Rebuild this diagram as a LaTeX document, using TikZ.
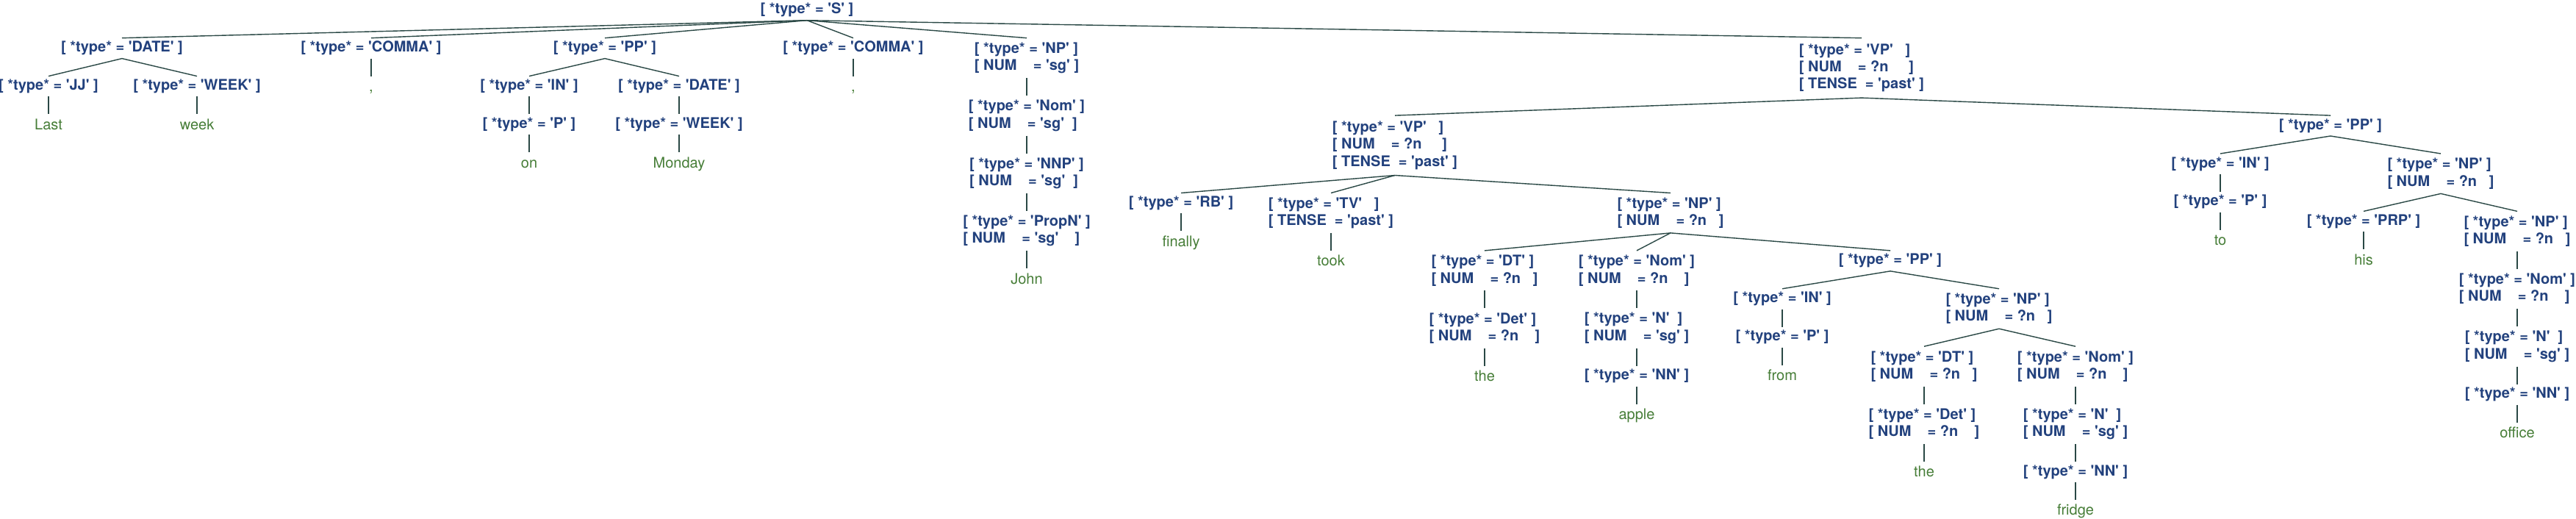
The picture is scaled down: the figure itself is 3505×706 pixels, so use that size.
\documentclass[tikz,border=0pt]{standalone}
\usepackage{fontspec}
\usepackage{xcolor}
\usepackage{tikz}
\usetikzlibrary{positioning}
\newfontfamily\heros{TeX Gyre Heros}
\definecolor{nodeblue}{HTML}{22417D}
\definecolor{leafgreen}{HTML}{467D37}
\definecolor{linegray}{HTML}{2A4845}
\newcommand{\fline}[1]{[~#1~]}
\tikzset{
	feat/.style = 
    {
			font = \heros\bfseries\fontsize{20}{23.3}\selectfont,
			text = nodeblue,
			align = left,
			inner sep = 0pt,
			minimum height = #1
    },
	feat/.default = 27.5pt,
	word/.style = 
    {
			font = \heros\fontsize{20}{23.3}\selectfont,
			text = leafgreen,
			inner sep = 0pt,
			text height = 15pt,
			text depth = 4pt,
			minimum height = 30pt
    }
}
\begin{document}
\begin{tikzpicture}[x = 1pt, y = 1pt, node distance = 24pt]
        \tikzset{branch/.style={draw=linegray, line width=1.4pt}}
        \useasboundingbox (0,0) rectangle (3505,-706);

        % Nodes
        \node (s) [feat] at (1098,-13.75) {\fline{*type*~=~'S'}};

        \node (date) [feat, below=of s, xshift=-932pt] {\fline{*type*~=~'DATE'}};
        \node (jj) [feat, below=of date, xshift=-100pt] {\fline{*type*~=~'JJ'}};
        \node (last) [word, below=of jj] {Last};
        \node (week_a) [feat, below=of date, xshift=102pt] {\fline{*type*~=~'WEEK'}};
        \node (week) [word, below=of week_a] {week};

        \node (comma_a) [feat, below=of s, xshift=-593pt] {\fline{*type*~=~'COMMA'}};
        \node (comma_a_w) [word, below=of comma_a] {,};

        \node (pp_a) [feat, below=of s, xshift=-275pt] {\fline{*type*~=~'PP'}};
        \node (in_a) [feat, below=of pp_a, xshift=-103pt] {\fline{*type*~=~'IN'}};
        \node (p_a) [feat, below=of in_a] {\fline{*type*~=~'P'}};
        \node (on) [word, below=of p_a] {on};
        \node (date_b) [feat, below=of pp_a, xshift=101pt] {\fline{*type*~=~'DATE'}};
        \node (week_b) [feat, below=of date_b] {\fline{*type*~=~'WEEK'}};
        \node (monday) [word, below=of week_b] {Monday};

        \node (comma_b) [feat, below=of s, xshift=63pt] {\fline{*type*~=~'COMMA'}};
        \node (comma_b_w) [word, below=of comma_b] {,};

        \node (np_a) [feat=54pt, below=of s, xshift=299pt] {\fline{*type*~=~'NP'}\\\fline{NUM~~~~=~'sg'}};
        \node (nom_a) [feat=54pt, below=of np_a] {\fline{*type*~=~'Nom'}\\\fline{NUM~~~~=~'sg'~}};
        \node (nnp) [feat=54pt, below=of nom_a] {\fline{*type*~=~'NNP'}\\\fline{NUM~~~~=~'sg'~}};
        \node (propn) [feat=54pt, below=of nnp] {\fline{*type*~=~'PropN'}\\\fline{NUM~~~~=~'sg'~~~}};
        \node (john) [word, below=of propn] {John};

        \node (vp_a) [feat=81pt, below=of s, xshift=1435pt] {\fline{*type*~=~'VP'~~}\\\fline{NUM~~~~=~?n~~~~}\\\fline{TENSE~~=~'past'}};
        \node (vp_b) [feat=81pt, below=of vp_a, xshift=-635pt] {\fline{*type*~=~'VP'~~}\\\fline{NUM~~~~=~?n~~~~}\\\fline{TENSE~~=~'past'}};
        \node (rb) [feat, below=of vp_b, xshift=-291pt] {\fline{*type*~=~'RB'}};
        \node (finally) [word, below=of rb] {finally};
        \node (tv) [feat=54pt, below=of vp_b, xshift=-87pt] {\fline{*type*~=~'TV'~~}\\\fline{TENSE~~=~'past'}};
        \node (took) [word, below=of tv] {took};

        \node (np_b) [feat=54pt, below=of vp_b, xshift=375pt] {\fline{*type*~=~'NP'}\\\fline{NUM~~~~=~?n~~}};
        \node (dt_a) [feat=54pt, below=of np_b, xshift=-253pt] {\fline{*type*~=~'DT'}\\\fline{NUM~~~~=~?n~~}};
        \node (det_a) [feat=54pt, below=of dt_a] {\fline{*type*~=~'Det'}\\\fline{NUM~~~~=~?n~~~}};
        \node (the_a) [word, below=of det_a] {the};
        \node (nom_b) [feat=54pt, below=of np_b, xshift=-46pt] {\fline{*type*~=~'Nom'}\\\fline{NUM~~~~=~?n~~~}};
        \node (n_a) [feat=54pt, below=of nom_b] {\fline{*type*~=~'N'~}\\\fline{NUM~~~~=~'sg'}};
        \node (nn_a) [feat, below=of n_a] {\fline{*type*~=~'NN'}};
        \node (apple) [word, below=of nn_a] {apple};

        \node (pp_c) [feat, below=of np_b, xshift=299pt] {\fline{*type*~=~'PP'}};
        \node (in_c) [feat, below=of pp_c, xshift=-147pt] {\fline{*type*~=~'IN'}};
        \node (p_c) [feat, below=of in_c] {\fline{*type*~=~'P'}};
        \node (from) [word, below=of p_c] {from};
        \node (np_c) [feat=54pt, below=of pp_c, xshift=148pt] {\fline{*type*~=~'NP'}\\\fline{NUM~~~~=~?n~~}};
        \node (dt_b) [feat=54pt, below=of np_c, xshift=-102pt] {\fline{*type*~=~'DT'}\\\fline{NUM~~~~=~?n~~}};
        \node (det_b) [feat=54pt, below=of dt_b] {\fline{*type*~=~'Det'}\\\fline{NUM~~~~=~?n~~~}};
        \node (the_b) [word, below=of det_b] {the};
        \node (nom_c) [feat=54pt, below=of np_c, xshift=104pt] {\fline{*type*~=~'Nom'}\\\fline{NUM~~~~=~?n~~~}};
        \node (n_b) [feat=54pt, below=of nom_c] {\fline{*type*~=~'N'~}\\\fline{NUM~~~~=~'sg'}};
        \node (nn_b) [feat, below=of n_b] {\fline{*type*~=~'NN'}};
        \node (fridge) [word, below=of nn_b] {fridge};

        \node (pp_b) [feat, below=of vp_a, xshift=638pt] {\fline{*type*~=~'PP'}};
        \node (in_b) [feat, below=of pp_b, xshift=-150pt] {\fline{*type*~=~'IN'}};
        \node (p_b) [feat, below=of in_b] {\fline{*type*~=~'P'}};
        \node (to) [word, below=of p_b] {to};
        \node (np_d) [feat=54pt, below=of pp_b, xshift=150pt] {\fline{*type*~=~'NP'}\\\fline{NUM~~~~=~?n~~}};
        \node (prp) [feat, below=of np_d, xshift=-105pt] {\fline{*type*~=~'PRP'}};
        \node (his) [word, below=of prp] {his};
        \node (np_e) [feat=54pt, below=of np_d, xshift=104pt] {\fline{*type*~=~'NP'}\\\fline{NUM~~~~=~?n~~}};
        \node (nom_d) [feat=54pt, below=of np_e] {\fline{*type*~=~'Nom'}\\\fline{NUM~~~~=~?n~~~}};
        \node (n_c) [feat=54pt, below=of nom_d] {\fline{*type*~=~'N'~}\\\fline{NUM~~~~=~'sg'}};
        \node (nn_c) [feat, below=of n_c] {\fline{*type*~=~'NN'}};
        \node (office) [word, below=of nn_c] {office};

        % Lines
        \draw [branch] (s.south) -- (date.north);
        \draw [branch] (s.south) -- (comma_a.north);
        \draw [branch] (s.south) -- (pp_a.north);
        \draw [branch] (s.south) -- (comma_b.north);
        \draw [branch] (s.south) -- (np_a.north);
        \draw [branch] (s.south) -- (vp_a.north);
        \draw [branch] (date.south) -- (jj.north);
        \draw [branch] (date.south) -- (week_a.north);
        \draw [branch] (jj.south) -- (last.north);
        \draw [branch] (week_a.south) -- (week.north);
        \draw [branch] (comma_a.south) -- (comma_a_w.north);
        \draw [branch] (pp_a.south) -- (in_a.north);
        \draw [branch] (pp_a.south) -- (date_b.north);
        \draw [branch] (in_a.south) -- (p_a.north);
        \draw [branch] (p_a.south) -- (on.north);
        \draw [branch] (date_b.south) -- (week_b.north);
        \draw [branch] (week_b.south) -- (monday.north);
        \draw [branch] (comma_b.south) -- (comma_b_w.north);
        \draw [branch] (np_a.south) -- (nom_a.north);
        \draw [branch] (nom_a.south) -- (nnp.north);
        \draw [branch] (nnp.south) -- (propn.north);
        \draw [branch] (propn.south) -- (john.north);
        \draw [branch] (vp_a.south) -- (vp_b.north);
        \draw [branch] (vp_a.south) -- (pp_b.north);
        \draw [branch] (vp_b.south) -- (rb.north);
        \draw [branch] (vp_b.south) -- (tv.north);
        \draw [branch] (vp_b.south) -- (np_b.north);
        \draw [branch] (rb.south) -- (finally.north);
        \draw [branch] (tv.south) -- (took.north);
        \draw [branch] (np_b.south) -- (dt_a.north);
        \draw [branch] (np_b.south) -- (nom_b.north);
        \draw [branch] (np_b.south) -- (pp_c.north);
        \draw [branch] (dt_a.south) -- (det_a.north);
        \draw [branch] (det_a.south) -- (the_a.north);
        \draw [branch] (nom_b.south) -- (n_a.north);
        \draw [branch] (n_a.south) -- (nn_a.north);
        \draw [branch] (nn_a.south) -- (apple.north);
        \draw [branch] (pp_c.south) -- (in_c.north);
        \draw [branch] (pp_c.south) -- (np_c.north);
        \draw [branch] (in_c.south) -- (p_c.north);
        \draw [branch] (p_c.south) -- (from.north);
        \draw [branch] (np_c.south) -- (dt_b.north);
        \draw [branch] (np_c.south) -- (nom_c.north);
        \draw [branch] (dt_b.south) -- (det_b.north);
        \draw [branch] (det_b.south) -- (the_b.north);
        \draw [branch] (nom_c.south) -- (n_b.north);
        \draw [branch] (n_b.south) -- (nn_b.north);
        \draw [branch] (nn_b.south) -- (fridge.north);
        \draw [branch] (pp_b.south) -- (in_b.north);
        \draw [branch] (pp_b.south) -- (np_d.north);
        \draw [branch] (in_b.south) -- (p_b.north);
        \draw [branch] (p_b.south) -- (to.north);
        \draw [branch] (np_d.south) -- (prp.north);
        \draw [branch] (np_d.south) -- (np_e.north);
        \draw [branch] (prp.south) -- (his.north);
        \draw [branch] (np_e.south) -- (nom_d.north);
        \draw [branch] (nom_d.south) -- (n_c.north);
        \draw [branch] (n_c.south) -- (nn_c.north);
        \draw [branch] (nn_c.south) -- (office.north);
\end{tikzpicture}
\end{document}
